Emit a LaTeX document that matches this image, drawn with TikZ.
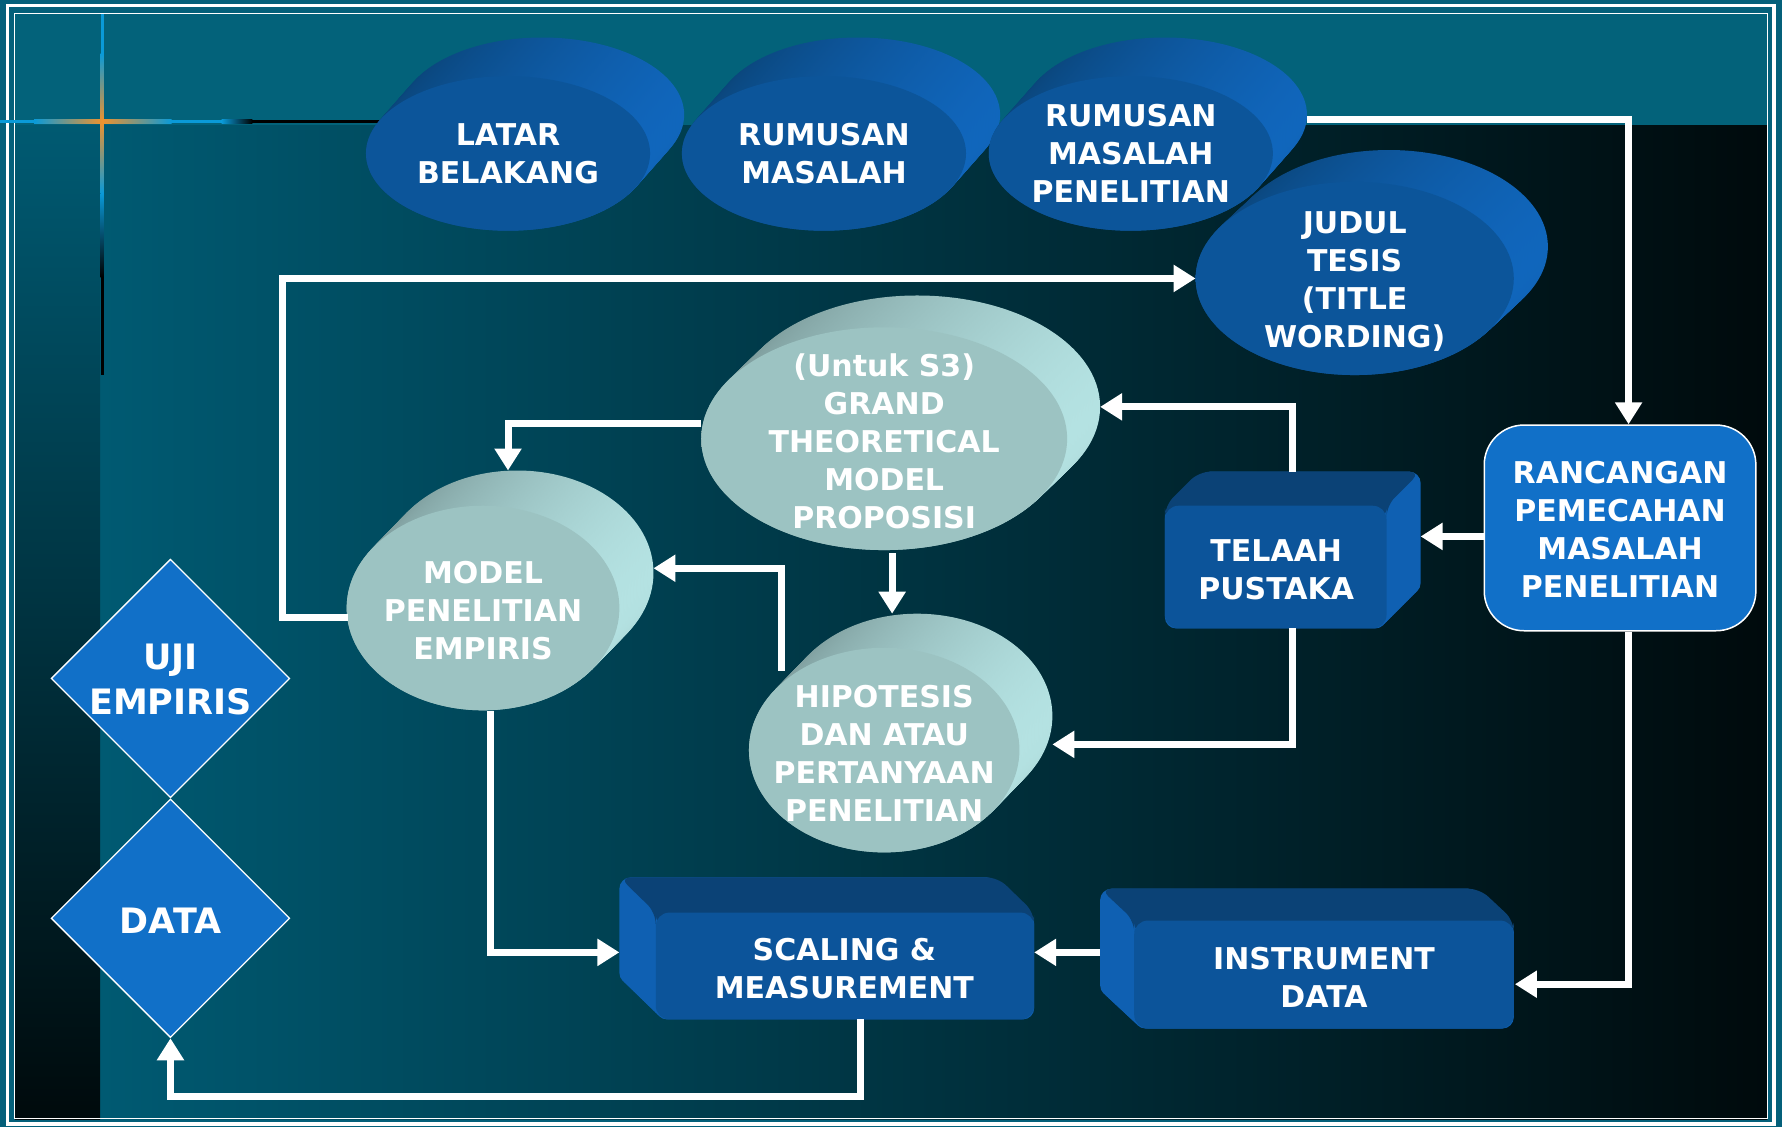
\documentclass[tikz,border=0pt]{standalone}
\usepackage{fontspec}
\setmainfont{DejaVu Sans}
\usetikzlibrary{shapes.geometric,arrows.meta,calc}
\definecolor{bgteal}{HTML}{04607A}
\definecolor{topband}{HTML}{03627A}
\definecolor{mainL}{HTML}{005A72}
\definecolor{mainM}{HTML}{00394A}
\definecolor{mainR}{HTML}{000A0C}
\definecolor{discB}{HTML}{0C559A}
\definecolor{discBdark}{HTML}{0A4478}
\definecolor{discBlight}{HTML}{1066BC}
\definecolor{discG}{HTML}{9CC3C2}
\definecolor{discGdark}{HTML}{7A9898}
\definecolor{discGlight}{HTML}{B4E2E2}
\definecolor{boxFront}{HTML}{0C549A}
\definecolor{boxTop}{HTML}{0B4276}
\definecolor{boxSide}{HTML}{0F60B2}
\definecolor{flatB}{HTML}{1170C8}
\definecolor{crossB}{HTML}{0A9AD8}
\definecolor{crossO}{HTML}{EE922E}
\newcommand\uu{1.1365pt}
\tikzset{
  disc/.style={ellipse, inner sep=0pt, outer sep=0pt, draw=none},
  lbl/.style={text=white, font=\bfseries\fontsize{30}{38}\selectfont, align=center, inner sep=0pt},
  biglbl/.style={text=white, font=\bfseries\fontsize{35}{45}\selectfont, align=center, inner sep=0pt},
  arr/.style={draw=white, line width=7pt, -{Triangle[width=26pt,length=22pt]}},
  flatdiamond/.style={diamond, fill=flatB, draw=white, line width=1.3pt, inner sep=0pt, minimum width=210*\uu, minimum height=210*\uu}
}
% #1 name #2 cx #3 cy #4 rx #5 ry #6 dx #7 dy #8 colour key
\newcommand\discthree[8]{%
  \foreach \k in {0,...,24}{%
    \pgfmathsetmacro\px{#2+(1-\k/24)*(#6)}%
    \pgfmathsetmacro\py{#3+(1-\k/24)*(#7)}%
    \node[disc, minimum width=2*#4*\uu, minimum height=2*#5*\uu,
          left color=disc#8dark, right color=disc#8light] at (\px,\py) {};
  }%
  \node[disc, minimum width=2*#4*\uu, minimum height=2*#5*\uu, fill=disc#8] (#1) at (#2,#3) {};
}
% #1 name #2 x1 #3 y1 #4 x2 #5 y2 #6 dx #7 dy
\newcommand\boxthree[7]{%
  \foreach \k in {0,...,20}{%
    \pgfmathsetmacro\ax{#2+(1-\k/20)*(#6)}%
    \pgfmathsetmacro\ay{#3+(1-\k/20)*(#7)}%
    \pgfmathsetmacro\bx{#4+(1-\k/20)*(#6)}%
    \pgfmathsetmacro\by{#5+(1-\k/20)*(#7)}%
    \fill[boxSide, rounded corners=10*\uu] (\ax,\ay) rectangle (\bx,\by);
  }%
  \pgfmathsetmacro\tx{#2+(#6)}%
  \pgfmathsetmacro\ty{#3+(#7)}%
  \pgfmathsetmacro\tz{#4+(#6)}%
  \fill[boxTop, rounded corners=10*\uu] (#2,#3+12) -- (#2,#3) -- (\tx,\ty) -- (\tz,\ty) -- (#4,#3) -- (#4,#3+12) -- cycle;
  \pgfmathsetmacro\cx{(#2+#4)/2}%
  \pgfmathsetmacro\cy{(#3+#5)/2}%
  \node[rectangle, rounded corners=12*\uu, fill=boxFront, inner sep=0pt,
        minimum width=(#4-#2)*\uu, minimum height=(#5-#3)*\uu] (#1) at (\cx,\cy) {};
}
\begin{document}
\begin{tikzpicture}[x=\uu, y=-\uu]
\useasboundingbox (0,0) rectangle (1568,992);
% ---------- background ----------
\fill[bgteal] (0,0) rectangle (1568,992);
\fill[topband] (13,12) rectangle (1555,110);
\shade[left color=mainL, middle color=mainM, right color=mainR] (88,110) rectangle (1555,985);
\shade[top color=mainL, middle color=mainM, bottom color=mainR] (13,110) rectangle (88,985);
% frame
\draw[white, line width=3*\uu] (6.5,5) rectangle (1561,989);
\draw[white, line width=1.2*\uu] (13,12) rectangle (1555,984);
% cross decoration (vertical)
\fill[crossB] (88.5,12) rectangle (91.5,47);
\shade[top color=crossB, bottom color=crossO] (88.5,47) rectangle (91.5,107);
\shade[top color=crossO, bottom color=crossB] (88.5,107) rectangle (91.5,170);
\shade[top color=crossB, bottom color=black] (88.5,170) rectangle (91.5,244);
\fill[black] (88.5,244) rectangle (91.5,330);
% cross decoration (horizontal)
\fill[crossB] (0,105.5) rectangle (30,108.5);
\shade[left color=crossB, right color=crossO] (30,105.5) rectangle (90,108.5);
\shade[left color=crossO, right color=crossB] (90,105.5) rectangle (151,108.5);
\fill[crossB] (151,105.5) rectangle (195,108.5);
\shade[left color=crossB, right color=black] (195,105.5) rectangle (222,108.5);
\fill[black] (222,105.5) rectangle (335,108.5);
% ---------- top discs ----------
\discthree{lb}{447}{135}{125}{68}{30}{-34}{B}
\discthree{rm}{725}{135}{125}{68}{30}{-34}{B}
\discthree{rmp}{995}{135}{125}{68}{30}{-34}{B}
\discthree{jt}{1192}{245}{140}{85}{30}{-28}{B}
% ---------- light discs ----------
\discthree{gt}{778}{386}{161}{98}{29}{-28}{G}
\discthree{mp}{425}{535}{120}{90}{30}{-31}{G}
\discthree{hp}{778}{660}{119}{90}{29}{-30}{G}
% ---------- boxes ----------
\boxthree{tp}{1025}{445}{1220}{553}{30}{-30}
\boxthree{sm}{577}{803}{910}{897}{-32}{-31}
\boxthree{id}{998}{810}{1332}{905}{-30}{-28}
\node[fill=flatB, draw=white, line width=1.5pt, rounded corners=35*\uu, inner sep=0pt,
      minimum width=239*\uu, minimum height=181*\uu] (rp) at (1425.5,464.5) {};
\node[flatdiamond] (uji) at (150,597) {};
\node[flatdiamond] (data) at (150,808) {};
% ---------- connector end points ----------
\coordinate (rmpR) at (1150,105);
\coordinate (tpR) at (1250,472);
\coordinate (idR) at (1333,866);
\coordinate (idL) at (968,838);
\coordinate (smR) at (910,838);
\coordinate (smB) at (757,897);
\coordinate (smLow) at (757,965);
\coordinate (smL) at (545,838);
\coordinate (mpB) at (432,626);
\coordinate (mpL) at (306,543);
\coordinate (mpBend) at (249,543);
\coordinate (mpT) at (447,414);
\coordinate (mpR) at (575,500);
\coordinate (gtL) at (617,373);
\coordinate (gtB) at (785,487);
\coordinate (gtR) at (968,358);
\coordinate (hpT) at (785,540);
\coordinate (hpR) at (926,655);
\coordinate (hpTL) at (688,590);
\coordinate (tpT) at (1137,415);
\coordinate (tpB) at (1137,553);
% ---------- connectors ----------
\draw[arr] (rmpR) -| ($(rp.north)+(7.5,0)$);
\draw[arr] ($(rp.west)+(0,7.5)$) -- (tpR);
\draw[arr] ($(rp.south)+(7.5,0)$) |- (idR);
\draw[arr] (idL) -- (smR);
\draw[arr] (smB) -- (smLow) -| (data.south);
\draw[arr] (mpB) |- (smL);
\draw[arr] (mpL) -- (mpBend) |- (jt.west);
\draw[arr] (gtL) -| (mpT);
\draw[arr] (gtB) -- (hpT);
\draw[arr] (tpT) |- (gtR);
\draw[arr] (tpB) |- (hpR);
\draw[arr] (hpTL) |- (mpR);
% ---------- texts ----------
\node[lbl] (lb-t) at (447,135) {LATAR\\BELAKANG};
\node[lbl] (rm-t) at (725,135) {RUMUSAN\\MASALAH};
\node[lbl] (rmp-t) at (995,135) {RUMUSAN\\MASALAH\\PENELITIAN};
\node[lbl] (jt-t) at (1192,247.5) {JUDUL\\TESIS\\(TITLE\\WORDING)};
\node[lbl] (gt-t) at (778,388) {(Untuk S3)\\GRAND\\THEORETICAL\\MODEL\\PROPOSISI};
\node[lbl] (mp-t) at (425,537) {MODEL\\PENELITIAN\\EMPIRIS};
\node[lbl] (hp-t) at (778,663) {HIPOTESIS\\DAN ATAU\\PERTANYAAN\\PENELITIAN};
\node[lbl] (tp-t) at (1123,501) {TELAAH\\PUSTAKA};
\node[lbl] (rp-t) at (1425.5,466) {RANCANGAN\\PEMECAHAN\\MASALAH\\PENELITIAN};
\node[lbl] (sm-t) at (743,852) {SCALING \&\\MEASUREMENT};
\node[lbl] (id-t) at (1165,860) {INSTRUMENT\\DATA};
\node[biglbl] (uji-t) at (150,598) {UJI\\EMPIRIS};
\node[biglbl] (data-t) at (150,810) {DATA};
\end{tikzpicture}
\end{document}
